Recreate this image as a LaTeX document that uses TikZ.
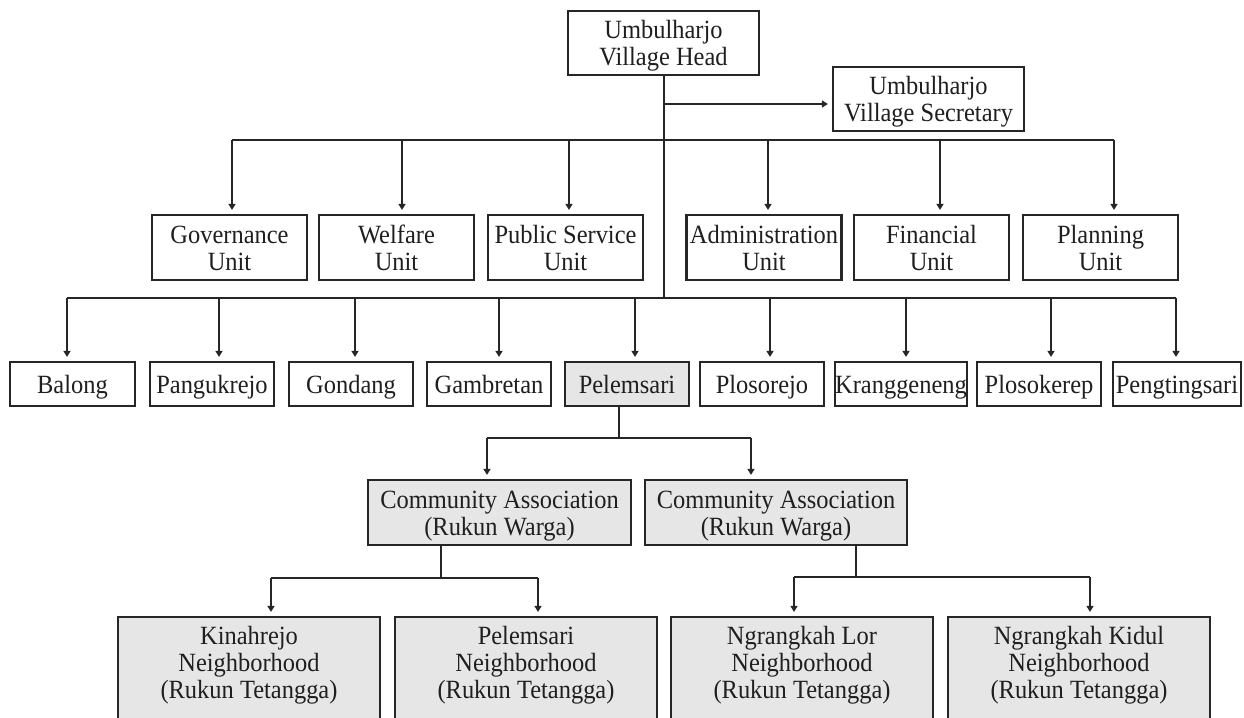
\documentclass[tikz,border=0pt]{standalone}
\usepackage{fontspec}
\setmainfont[FakeStretch=0.93]{Liberation Serif}
\usetikzlibrary{arrows.meta}
\definecolor{ln}{HTML}{262626}
\definecolor{gbox}{HTML}{E6E6E6}
\begin{document}
\begin{tikzpicture}[x=1pt,y=-1pt,
  box/.style={draw=ln,line width=2.2pt,inner sep=0pt,align=center,
    font=\fontsize{26.3pt}{27pt}\selectfont,text=black!88},
  twoline/.style={text height=45pt,text depth=0pt},
  unitbox/.style={box,twoline,minimum width=155pt,minimum height=65pt},
  vilbox/.style={box,minimum width=124pt,minimum height=44pt,text height=18pt,text depth=0pt},
  cabox/.style={box,twoline,fill=gbox,minimum width=262pt,minimum height=65pt},
  nbbox/.style={box,fill=gbox,minimum width=262pt,minimum height=110pt,text height=72pt,text depth=20pt},
  con/.style={draw=ln,line width=2pt},
  arr/.style={con,-{Triangle[length=6pt,width=7pt]},shorten >=4pt}]
\useasboundingbox (0,0) rectangle (1244,717);
\clip (0,0) rectangle (1244,717);
\fill[white] (0,0) rectangle (1244,717);

% top
\node[box,twoline,minimum width=191pt,minimum height=64pt] (head) at (663.5,43) {Umbulharjo\\Village Head};
\node[box,twoline,minimum width=191pt,minimum height=64pt] (sec) at (928.5,99) {Umbulharjo\\Village Secretary};

% units
\node[unitbox] (gov)  at (229.5,247.5) {Governance\\Unit};
\node[unitbox] (wel)  at (396.5,247.5) {Welfare\\Unit};
\node[unitbox] (ps)   at (565.5,247.5) {Public Service\\Unit};
\node[unitbox] (adm)  at (764,247.5)   {Administration\\Unit};
\node[unitbox] (fin)  at (931.5,247.5) {Financial\\Unit};
\node[unitbox] (plan) at (1100.5,247.5) {Planning\\Unit};

% villages
\node[vilbox,minimum width=125pt] (balong) at (72.5,384) {Balong};
\node[vilbox] (pang)  at (212,384)  {Pangukrejo};
\node[vilbox] (gond)  at (351,384)  {Gondang};
\node[vilbox] (gamb)  at (489,384)  {Gambretan};
\node[vilbox,fill=gbox] (pelem) at (627,384) {Pelemsari};
\node[vilbox] (plos)  at (762,384)  {Plosorejo};
\node[vilbox] (krang) at (901,384)  {Kranggeneng};
\node[vilbox] (plosk) at (1039,384) {Plosokerep};
\node[vilbox,minimum width=128pt] (peng) at (1177,384) {Pengtingsari};

% community associations
\node[cabox,minimum width=263pt] (caL) at (499.5,512.5) {Community Association\\(Rukun Warga)};
\node[cabox] (caR) at (776,512.5) {Community Association\\(Rukun Warga)};

% neighborhoods
\node[nbbox] (kin)  at (249,672)  {Kinahrejo\\Neighborhood\\(Rukun Tetangga)};
\node[nbbox] (peln) at (526,672)  {Pelemsari\\Neighborhood\\(Rukun Tetangga)};
\node[nbbox] (lor)  at (802,672)  {Ngrangkah Lor\\Neighborhood\\(Rukun Tetangga)};
\node[nbbox] (kid)  at (1079,672) {Ngrangkah Kidul\\Neighborhood\\(Rukun Tetangga)};

% bus coordinates
\coordinate (sj)  at (663.5,104);
\coordinate (ubL) at (232,140);
\coordinate (ubR) at (1114,140);
\coordinate (vbL) at (67,298);
\coordinate (vbR) at (1176,298);
\coordinate (pbL) at (487,438);
\coordinate (pbR) at (751,438);
\coordinate (lbL) at (271,578);
\coordinate (lbR) at (538,578);
\coordinate (rbL) at (794,577);
\coordinate (rbR) at (1090,577);

% head trunk and secretary
\draw[con] (head.south) -- (head.south |- vbL);
\draw[arr] (sj) -- (sec.west |- sj);

% unit bus
\draw[con] (ubL) -- (ubR);
\draw[arr] ([xshift=2.5pt]gov.north |- ubL) -- ([xshift=2.5pt]gov.north);
\draw[arr] ([xshift=5.5pt]wel.north |- ubL) -- ([xshift=5.5pt]wel.north);
\draw[arr] ([xshift=3.5pt]ps.north |- ubL) -- ([xshift=3.5pt]ps.north);
\draw[arr] ([xshift=4pt]adm.north |- ubL) -- ([xshift=4pt]adm.north);
\draw[arr] ([xshift=8.5pt]fin.north |- ubL) -- ([xshift=8.5pt]fin.north);
\draw[arr] ([xshift=13.5pt]plan.north |- ubL) -- ([xshift=13.5pt]plan.north);

% village bus
\draw[con] (vbL) -- (vbR);
\draw[arr] ([xshift=-5.5pt]balong.north |- vbL) -- ([xshift=-5.5pt]balong.north);
\draw[arr] ([xshift=7pt]pang.north |- vbL) -- ([xshift=7pt]pang.north);
\draw[arr] ([xshift=4pt]gond.north |- vbL) -- ([xshift=4pt]gond.north);
\draw[arr] ([xshift=10pt]gamb.north |- vbL) -- ([xshift=10pt]gamb.north);
\draw[arr] ([xshift=8pt]pelem.north |- vbL) -- ([xshift=8pt]pelem.north);
\draw[arr] ([xshift=8pt]plos.north |- vbL) -- ([xshift=8pt]plos.north);
\draw[arr] ([xshift=5pt]krang.north |- vbL) -- ([xshift=5pt]krang.north);
\draw[arr] ([xshift=12pt]plosk.north |- vbL) -- ([xshift=12pt]plosk.north);
\draw[arr] ([xshift=-1pt]peng.north |- vbL) -- ([xshift=-1pt]peng.north);

% Pelemsari to community associations
\draw[con] ([xshift=-8pt]pelem.south) -- ([xshift=-8pt]pelem.south |- pbL);
\draw[con] (pbL) -- (pbR);
\draw[arr] (pbL) -- (pbL |- caL.north);
\draw[arr] (pbR) -- (pbR |- caR.north);

% left community association
\draw[con] ([xshift=-58.5pt]caL.south) -- ([xshift=-58.5pt]caL.south |- lbL);
\draw[con] (lbL) -- (lbR);
\draw[arr] (lbL) -- (lbL |- kin.north);
\draw[arr] (lbR) -- (lbR |- peln.north);

% right community association
\draw[con] ([xshift=80pt]caR.south) -- ([xshift=80pt]caR.south |- rbL);
\draw[con] (rbL) -- (rbR);
\draw[arr] (rbL) -- (rbL |- lor.north);
\draw[arr] (rbR) -- (rbR |- kid.north);
\end{tikzpicture}
\end{document}
